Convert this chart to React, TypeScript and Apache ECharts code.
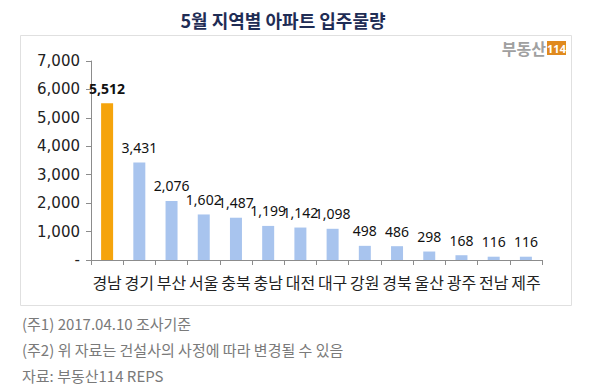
import React, { useEffect, useRef } from "react";
import * as echarts from "echarts";

const title = "5월 지역별 아파트 입주물량";
const categories = ["경남", "경기", "부산", "서울", "충북", "충남", "대전", "대구", "강원", "경북", "울산", "광주", "전남", "제주"];
const values = [5512, 3431, 2076, 1602, 1487, 1199, 1142, 1098, 498, 486, 298, 168, 116, 116];
const highlightIndex = 0;
const notes = ["(주1) 2017.04.10 조사기준", "(주2) 위 자료는 건설사의 사정에 따라 변경될 수 있음", "자료: 부동산114 REPS"];

const FONT = "'Noto Sans CJK KR', 'Noto Sans', sans-serif";
const NUMFONT = "'DejaVu Sans', sans-serif";

export default function App() {
  const ref = useRef<HTMLDivElement>(null);
  useEffect(() => {
    if (!ref.current) return;
    const chart = echarts.init(ref.current, null, { renderer: "svg" });
    chart.setOption({
      animation: false,
      backgroundColor: "#ffffff",
      textStyle: { fontFamily: FONT },
      title: {
        text: title,
        left: 278,
        top: 6,
        textAlign: "center",
        textStyle: { fontSize: 18, fontWeight: "bold", color: "#1f2d55", fontFamily: FONT },
      },
      grid: { left: 91, right: 58, top: 61, bottom: 128, containLabel: false },
      xAxis: {
        type: "category",
        data: categories,
        axisLine: { lineStyle: { color: "#8c8c8c" } },
        axisTick: { show: true, alignWithLabel: false, length: 5, lineStyle: { color: "#8c8c8c" } },
        axisLabel: { color: "#222", fontSize: 16, margin: 14, interval: 0, fontFamily: FONT },
      },
      yAxis: {
        type: "value",
        min: 0,
        max: 7000,
        interval: 1000,
        splitLine: { show: false },
        axisLine: { show: true, lineStyle: { color: "#8c8c8c" } },
        axisTick: { show: true, length: 5, lineStyle: { color: "#8c8c8c" } },
        axisLabel: {
          color: "#222",
          fontSize: 15,
          margin: 11,
          fontFamily: NUMFONT,
          formatter: (v: number) => (v === 0 ? "-" : v.toLocaleString("en-US")),
        },
      },
      series: [
        {
          type: "bar",
          barWidth: 12,
          data: values.map((v, i) => ({
            value: v,
            itemStyle: { color: i === highlightIndex ? "#f5a40c" : "#a8c4ee" },
            label: i === highlightIndex ? { fontWeight: "bold" } : undefined,
          })),
          label: {
            show: true,
            position: "top",
            distance: 8,
            color: "#111",
            fontSize: 14,
            fontFamily: "'Noto Sans', sans-serif",
            formatter: (p: any) => Number(p.value).toLocaleString("en-US"),
          },
        },
      ],
      graphic: [
        {
          type: "rect",
          shape: { x: 20.5, y: 35.5, width: 551, height: 270 },
          style: { fill: "none", stroke: "#e0e0e0", lineWidth: 1 },
          silent: true,
        },
        {
          type: "text",
          x: 546,
          y: 48,
          style: { text: "부동산", fill: "#a0a0a0", fontSize: 16, fontWeight: "bold", fontFamily: FONT, align: "right", verticalAlign: "middle" },
        },
        {
          type: "rect",
          shape: { x: 547, y: 41, width: 19, height: 14 },
          style: { fill: "#e08a1e" },
        },
        {
          type: "text",
          x: 556.5,
          y: 48.5,
          style: { text: "114", fill: "#ffffff", fontSize: 11, fontWeight: "bold", fontFamily: "'Noto Sans', sans-serif", align: "center", verticalAlign: "middle" },
        },
        ...notes.map((n, i) => ({
          type: "text",
          x: 22,
          y: 323 + i * 26,
          style: { text: n, fill: "#7a7a7a", fontSize: 15, fontFamily: FONT, verticalAlign: "middle" },
        })),
      ],
    });
    return () => chart.dispose();
  }, []);
  return <div ref={ref} style={{ width: 600, height: 388, position: "absolute", left: 0, top: 0 }} />;
}
